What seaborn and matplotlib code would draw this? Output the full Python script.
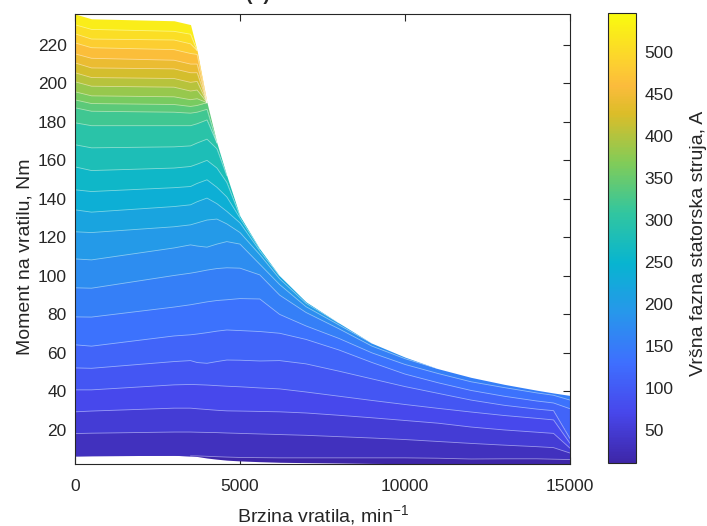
import matplotlib

matplotlib.use("Agg")

import matplotlib.pyplot as plt  # noqa: E402
import numpy as np  # noqa: E402
import seaborn as sns  # noqa: E402
from matplotlib.colors import LinearSegmentedColormap, Normalize  # noqa: E402
from matplotlib.cm import ScalarMappable  # noqa: E402

N = np.nan

# speed columns (min^-1)
speed = [0, 500, 3000, 3500, 3700, 4000, 4300, 4600, 5000, 5600, 6200,
         7000, 8000, 9000, 10000, 11000, 12000, 13000, 14000, 14500, 15000]

# operating envelope (Nm)
torque_max = [236.0, 233.5, 232.5, 230.5, 217.0, 190.0, 169.0, 152.0, 131.0,
              114.0, 100.0, 86.5, 75.5, 65.0, 57.8, 51.8, 47.3, 43.7, 40.6,
              39.2, 37.9]
torque_min = [6.5, 6.6, 6.8, 6.5, 6.2, 5.4, 4.8, 4.3, 3.9, 3.5, 3.2, 3.0,
              2.8, 2.6, 2.5, 2.4, 2.4, 2.3, 2.3, 2.3, 2.3]

# iso-current lines: torque at each speed, NaN where the line has run into
# the envelope
line_01 = [6.5, 6.6, 6.8, 6.5, 6.5, 6.3, 6.1, 5.9, 5.7, 5.6, 5.5, 5.5, 5.5,
           5.5, 5.5, 5.3, 4.9, 5.0, 5.0, 4.8, 4.6]
line_02 = [18.1, 18.3, 18.9, 18.9, 18.8, 18.7, 18.6, 18.4, 18.2, 17.9, 17.6,
           17.2, 16.5, 15.8, 15.0, 14.0, 13.0, 12.1, 11.3, 10.8, 8.0]
line_03 = [29.4, 29.8, 31.3, 31.3, 31.0, 30.6, 30.2, 29.9, 29.8, 29.6, 29.4,
           28.8, 27.6, 26.3, 24.9, 23.5, 21.5, 20.0, 18.8, 18.2, 10.5]
line_04 = [40.8, 40.8, 43.4, 43.6, 43.5, 43.3, 43.0, 42.7, 42.4, 41.8, 41.3,
           39.7, 37.5, 35.3, 33.2, 31.2, 29.3, 27.5, 26.0, 25.2, 13.0]
line_05 = [52.2, 52.0, 55.5, 56.0, 55.0, 54.6, 55.5, 56.3, 56.2, 55.8, 56.0,
           54.3, 50.5, 46.5, 42.5, 39.0, 35.5, 32.8, 30.8, 30.0, 15.5]
line_06 = [64.2, 63.5, 68.8, 69.4, 69.8, 70.5, 71.3, 71.9, 71.6, 71.1, 70.2,
           67.0, 61.5, 55.0, 49.0, 44.5, 40.5, 37.5, 35.0, 34.0, 31.0]
line_07 = [78.7, 78.6, 83.8, 85.0, 85.6, 86.5, 87.2, 87.6, 88.2, 88.0, 80.0,
           74.0, 67.5, 60.0, 54.0, 49.3, 45.0, 42.0, 39.2, 38.0, 35.5]
line_08 = [93.8, 93.6, 100.2, 101.4, 102.0, 103.0, 103.8, 104.2, 104.0, 100.5,
           90.0, 81.0, 72.5, 63.5, 57.0, N, N, N, N, N, N]
line_09 = [108.8, 108.3, 114.5, 116.1, 115.5, 114.9, 116.5, 117.8, 116.5,
           106.0, 95.5, 84.0, 74.5, N, N, N, N, N, N, N, N]
line_10 = [122.9, 122.5, 125.5, 126.5, 127.5, 129.0, 129.5, 127.0, 122.5,
           111.0, 98.5, 85.8, N, N, N, N, N, N, N, N, N]
line_11 = [134.3, 133.1, 136.0, 136.9, 138.5, 140.4, 137.5, 133.5, 127.5,
           113.0, N, N, N, N, N, N, N, N, N, N, N]
line_12 = [144.7, 143.8, 145.8, 146.4, 148.0, 149.9, 146.0, 141.0, 130.0,
           N, N, N, N, N, N, N, N, N, N, N, N]
line_13 = [156.6, 154.7, 156.0, 156.8, 158.0, 160.0, 156.0, 148.5,
           N, N, N, N, N, N, N, N, N, N, N, N, N]
line_14 = [168.1, 166.5, 167.0, 167.5, 169.0, 171.0, 166.0,
           N, N, N, N, N, N, N, N, N, N, N, N, N, N]
line_15 = [179.5, 178.0, 178.0, 178.0, 179.0, 181.0] + [N] * 15
line_16 = [187.3, 185.5, 185.0, 184.5, 185.0, 186.5] + [N] * 15
line_17 = [191.4, 189.5, 189.0, 188.0, 188.5] + [N] * 16
line_18 = [195.6, 193.5, 193.0, 191.5, 192.0] + [N] * 16
line_19 = [200.8, 198.5, 198.0, 196.0, 196.5] + [N] * 16
line_20 = [205.5, 203.0, 202.5, 200.5, 201.0] + [N] * 16
line_21 = [210.6, 208.0, 207.5, 205.5, 205.5] + [N] * 16
line_22 = [215.3, 213.0, 212.0, 210.0, 210.0] + [N] * 16
line_23 = [221.0, 218.5, 217.5, 215.5, 215.0] + [N] * 16
line_24 = [225.7, 223.0, 222.5, 220.5] + [N] * 17
line_25 = [230.4, 228.0, 227.0, 225.5] + [N] * 17

iso_lines = [line_01, line_02, line_03, line_04, line_05, line_06, line_07,
             line_08, line_09, line_10, line_11, line_12, line_13, line_14,
             line_15, line_16, line_17, line_18, line_19, line_20, line_21,
             line_22, line_23, line_24, line_25]

current_min = 11.0   # A
current_max = 546.0  # A

# MATLAB parula, approximated by anchor colours
parula = LinearSegmentedColormap.from_list("parula", [
    (0.000, (0.2422, 0.1504, 0.6603)), (0.111, (0.2803, 0.2782, 0.9221)),
    (0.222, (0.2440, 0.4358, 0.9988)), (0.333, (0.1540, 0.5902, 0.9218)),
    (0.444, (0.0297, 0.7082, 0.8163)), (0.556, (0.1938, 0.7758, 0.6251)),
    (0.667, (0.5044, 0.7993, 0.3480)), (0.778, (0.8634, 0.7406, 0.1596)),
    (0.840, (0.9850, 0.7350, 0.2350)), (0.889, (0.9892, 0.8136, 0.1885)),
    (1.000, (0.9763, 0.9831, 0.0538))], N=256)

sns.set_style("ticks")
plt.rcParams["font.family"] = ["Liberation Sans", "DejaVu Sans"]
plt.rcParams["mathtext.default"] = "regular"
dark = (0.15, 0.15, 0.15)

fig = plt.figure(figsize=(7.07, 5.26), dpi=100)
ax = fig.add_axes([75 / 707, 62 / 526, 495 / 707, 450 / 526])

x = np.asarray(speed, dtype=float)
top = np.asarray(torque_max)
low = np.asarray(torque_min)
rows = [low]
for ln in iso_lines:
    rows.append(np.fmax(np.fmin(np.asarray(ln, dtype=float), top), low))
rows.append(top)

n_bands = len(rows) - 1
levels = np.linspace(current_min, current_max, n_bands + 1)
norm = Normalize(current_min, current_max)

# filled bands, each slightly overlapping the next so no seams show
for k in range(n_bands):
    upper = np.minimum(rows[k + 1] + 0.4, top)
    ax.fill_between(x, rows[k], upper, facecolor=parula(norm(levels[k])),
                    linewidth=0)

# thin light contour lines, only where a line is clear of the edges
for r in rows[1:-1]:
    free = (r < top - 0.05) & (r > low + 0.05)
    show = free.copy()
    show[1:] |= free[:-1]
    show[:-1] |= free[1:]
    ax.plot(x, np.where(show, r, np.nan), color="white", alpha=0.45,
            linewidth=0.6)

ax.set_xlim(0, 15000)
ax.set_ylim(2.3, 236)
ax.set_xticks([0, 5000, 10000, 15000])
ax.set_yticks(range(20, 221, 20))
ax.tick_params(direction="in", top=True, right=True, length=5, width=0.8,
               colors=dark, labelsize=12.5, labelcolor=dark, pad=6)
ax.tick_params(axis="x", pad=11)
for s in ax.spines.values():
    s.set_color(dark)
    s.set_linewidth(0.8)
ax.set_xlabel("Brzina vratila, min$^{-1}$", fontsize=14, color=dark,
              labelpad=6)
ax.set_ylabel("Moment na vratilu, Nm", fontsize=14, color=dark, labelpad=3)
ax.yaxis.label.set_y(0.46)

fig.text(258 / 707, 1.0, "(a)", ha="center", va="baseline", fontsize=14,
         fontweight="bold", color=dark)

cax = fig.add_axes([608 / 707, 63 / 526, 28 / 707, 450 / 526])
sm = ScalarMappable(norm=norm, cmap=parula)
cb = fig.colorbar(sm, cax=cax)
cb.set_ticks(range(50, 501, 50))
cb.ax.tick_params(direction="in", length=4, width=0.8, colors=dark,
                  labelsize=12.5, labelcolor=dark, pad=6)
cb.outline.set_edgecolor(dark)
cb.outline.set_linewidth(0.8)
cb.set_label("Vršna fazna statorska struja, A", fontsize=14, color=dark,
             labelpad=12)
cb.ax.yaxis.label.set_y(0.488)

fig.savefig("out.png", dpi=100)
